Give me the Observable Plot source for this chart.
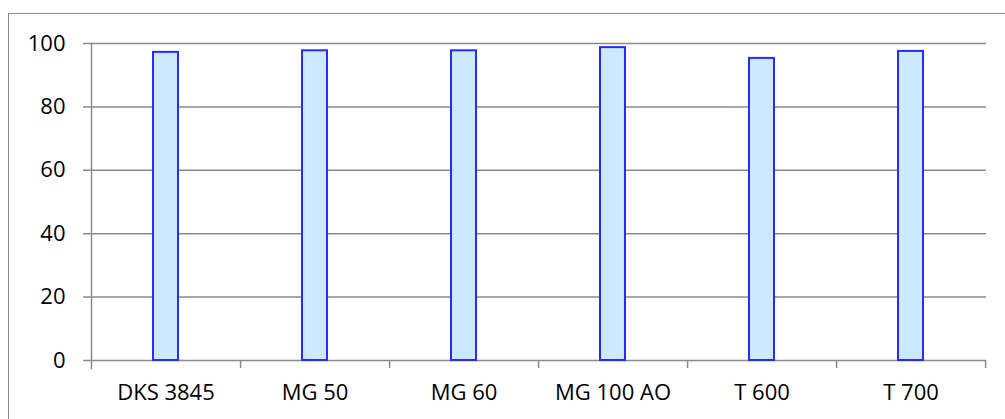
<!DOCTYPE html>
<html>
<head>
<meta charset="utf-8">
<script src="https://cdn.jsdelivr.net/npm/d3@7"></script>
<script src="https://cdn.jsdelivr.net/npm/@observablehq/plot@0.6"></script>
<style>
  html, body { margin: 0; padding: 0; background: #fff; overflow: hidden; }
  #wrap { position: relative; width: 1005px; height: 419px; overflow: hidden; }
  #border { position: absolute; left: 8px; top: 13px; width: 1010px; height: 420px; border: 1.3px solid #8a8a8a; box-sizing: border-box; pointer-events: none; }
  #chart { position: absolute; left: 0; top: 0; }
</style>
</head>
<body>
<div id="wrap"><div id="border"></div><div id="chart"></div></div>
<script>
const categories = ["DKS 3845", "MG 50", "MG 60", "MG 100 AO", "T 600", "T 700"];
const values = [97.2, 97.7, 97.7, 98.7, 95.3, 97.5];
const yTicks = [0, 20, 40, 60, 80, 100];

const data = categories.map((c, i) => ({category: c, value: values[i]}));

const W = 1005, H = 419;
const mL = 91, mR = 19, mT = 43, mB = 59;
const step = (W - mL - mR) / categories.length;
const gray = "#8a8a8a";
const font = "Open Sans, Lato, sans-serif";

const chart = Plot.plot({
  width: W,
  height: H,
  marginLeft: mL,
  marginRight: mR,
  marginTop: mT,
  marginBottom: mB,
  style: {fontFamily: font, fontSize: "22px", color: "#000", background: "transparent", overflow: "visible"},
  x: {type: "band", domain: categories, paddingInner: 0.832, paddingOuter: 0.416, label: null},
  y: {domain: [0, 100], label: null},
  marks: [
    Plot.ruleY(yTicks, {stroke: gray, strokeWidth: 1.5, insetLeft: -8}),
    Plot.frame({anchor: "left", stroke: gray, strokeWidth: 1.5, insetBottom: -8}),
    Plot.axisX(categories, {tickSize: 8, dx: step / 2, stroke: gray, strokeWidth: 1.5, tickFormat: () => "", label: null}),
    Plot.axisX(categories, {tickSize: 0, tickPadding: 24, fill: "#000", label: null}),
    Plot.axisY(yTicks, {tickSize: 0, tickPadding: 26, fill: "#000", label: null}),
    Plot.barY(data, {x: "category", y: "value", fill: "#cce9ff", stroke: "#2a2aff", strokeWidth: 2})
  ]
});
document.getElementById("chart").appendChild(chart);
</script>
</body>
</html>
